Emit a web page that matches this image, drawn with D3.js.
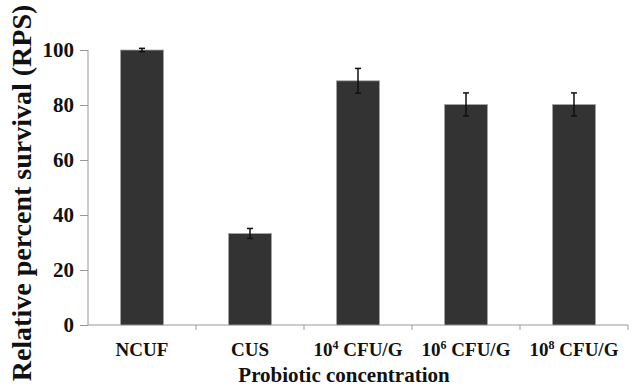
<!DOCTYPE html>
<html>
<head>
<meta charset="utf-8">
<script src="https://cdn.jsdelivr.net/npm/d3@7"></script>
<style>
  body { margin: 0; background: #fff; }
  text { font-family: "Liberation Serif", "Times New Roman", serif; font-weight: bold; fill: #111; }
</style>
</head>
<body>
<svg width="633" height="392"></svg>
<script>
// data
var groups = ["NCUF", "CUS", "10^4", "10^6", "10^8"];
var rps = [100, 33.3, 88.8, 80.2, 80.2];
var err = [0.6, 1.8, 4.5, 4.2, 4.2];
var yTicks = [0, 20, 40, 60, 80, 100];
// end of data

var svg = d3.select("svg"),
    plotL = 88, plotR = 628, plotT = 50, plotB = 325;

var x = d3.scaleBand().domain(groups).range([plotL, plotR]);
var y = d3.scaleLinear().domain([0, 100]).range([plotB, plotT]);
var barW = x.bandwidth() * 0.4;

// axes
var yAxis = svg.append("g")
  .attr("transform", "translate(" + plotL + ",0)")
  .call(d3.axisLeft(y).tickValues(yTicks).tickSize(8).tickPadding(6))
  .attr("font-family", "Liberation Serif")
  .attr("font-size", 20)
  .attr("font-weight", "bold");
yAxis.select(".domain").attr("stroke", "#999").attr("d", "M0," + plotT + "V" + plotB);
yAxis.selectAll(".tick line").attr("stroke", "#999");
yAxis.selectAll(".tick text").style("font-family", "Liberation Serif").style("font-size", "21px").attr("fill", "#111");

var xAxis = svg.append("g").attr("transform", "translate(0," + plotB + ")");
xAxis.append("line").attr("x1", plotL).attr("x2", plotR).attr("stroke", "#999");
xAxis.selectAll(".tk")
  .data(groups)
  .enter().append("line")
    .attr("x1", function(d, i) { return plotL + (i + 1) * x.step(); })
    .attr("x2", function(d, i) { return plotL + (i + 1) * x.step(); })
    .attr("y1", 0).attr("y2", 5).attr("stroke", "#999");

var lab = xAxis.selectAll(".lab")
  .data(groups)
  .enter().append("text")
    .attr("x", function(d) { return x(d) + x.bandwidth() / 2; })
    .attr("y", 31)
    .attr("text-anchor", "middle")
    .style("font-size", "19px");
lab.each(function(d) {
  var t = d3.select(this);
  if (d.indexOf("^") < 0) { t.text(d); return; }
  var p = d.split("^");
  t.append("tspan").text(p[0]);
  t.append("tspan").attr("dy", -7).style("font-size", "12px").text(p[1]);
  t.append("tspan").attr("dy", 7).text(" CFU/G");
});

// bars
svg.selectAll(".bar")
  .data(groups)
  .enter().append("rect")
    .attr("x", function(d) { return x(d) + (x.bandwidth() - barW) / 2; })
    .attr("y", function(d, i) { return y(rps[i]); })
    .attr("width", barW)
    .attr("height", function(d, i) { return y(0) - y(rps[i]); })
    .attr("fill", "#333")
    .attr("stroke", "#aaa")
    .attr("stroke-width", 0.8);

// error bars
var eb = svg.selectAll(".eb")
  .data(groups)
  .enter().append("g")
    .attr("transform", function(d) { return "translate(" + (x(d) + x.bandwidth() / 2) + ",0)"; });
eb.append("line")
  .attr("y1", function(d, i) { return y(rps[i] - err[i]); })
  .attr("y2", function(d, i) { return y(rps[i] + err[i]); })
  .attr("stroke", "#111").attr("stroke-width", 1.5);
eb.append("line")
  .attr("x1", -3).attr("x2", 3)
  .attr("y1", function(d, i) { return y(rps[i] + err[i]); })
  .attr("y2", function(d, i) { return y(rps[i] + err[i]); })
  .attr("stroke", "#111").attr("stroke-width", 1.5);
eb.append("line")
  .attr("x1", -3).attr("x2", 3)
  .attr("y1", function(d, i) { return y(rps[i] - err[i]); })
  .attr("y2", function(d, i) { return y(rps[i] - err[i]); })
  .attr("stroke", "#111").attr("stroke-width", 1.5);

// titles
svg.append("text")
  .attr("transform", "translate(31,193) rotate(-90)")
  .attr("text-anchor", "middle")
  .style("font-size", "28px")
  .text("Relative percent survival (RPS)");

svg.append("text")
  .attr("x", 344).attr("y", 382)
  .attr("text-anchor", "middle")
  .style("font-size", "21px")
  .text("Probiotic concentration");
</script>
</body>
</html>
